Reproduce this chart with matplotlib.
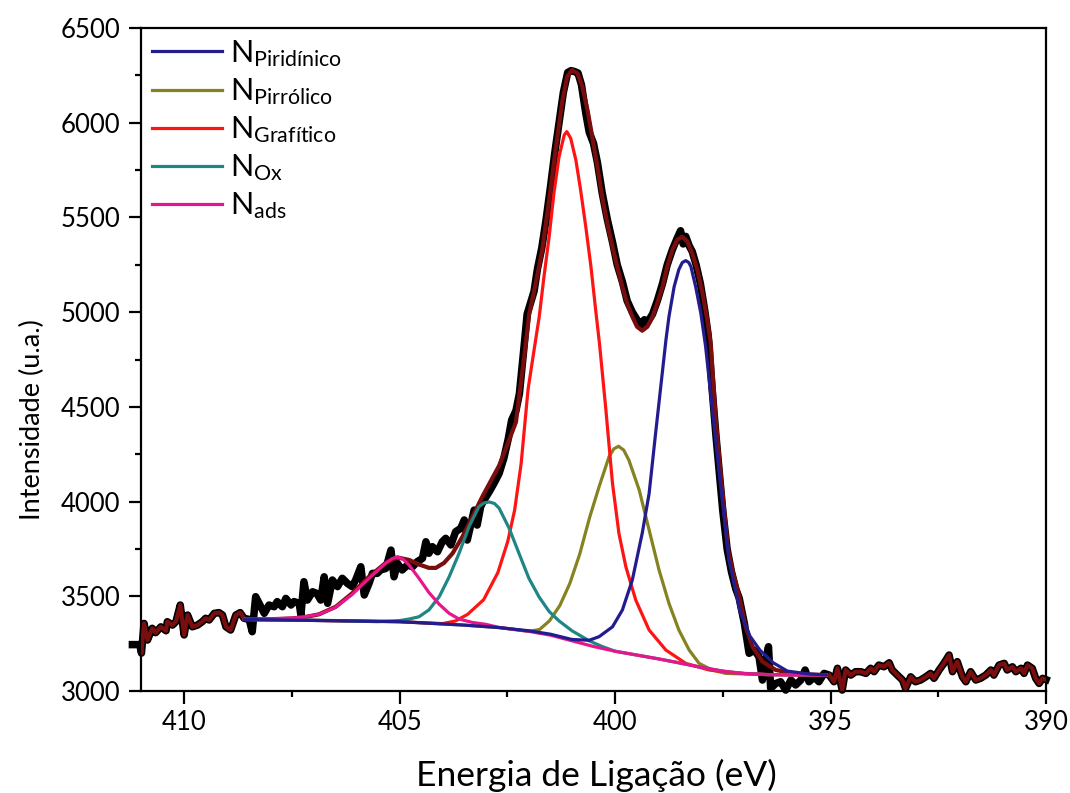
import matplotlib
matplotlib.use("Agg")
import matplotlib.pyplot as plt
import numpy as np

plt.rcParams['font.family'] = ['Lato', 'DejaVu Sans']
plt.rcParams['mathtext.fontset'] = 'custom'
plt.rcParams['mathtext.rm'] = 'Lato'
plt.rcParams['mathtext.it'] = 'Lato:italic'
plt.rcParams['mathtext.bf'] = 'Lato:bold'

# measured spectrum (binding energy in eV, intensity in a.u.)
energy_exp = [411.2, 411.03, 410.99, 410.93, 410.85, 410.74, 410.66, 410.54, 410.42, 410.39,
              410.27, 410.19, 410.09, 410.0, 409.92, 409.81, 409.69, 409.58, 409.5, 409.42,
              409.3, 409.19, 409.11, 409.03, 408.92, 408.8, 408.7, 408.61, 408.49, 408.42,
              408.34, 408.26, 408.14, 408.03, 407.91, 407.84, 407.72, 407.64, 407.52, 407.45,
              407.33, 407.29, 407.22, 407.14, 407.02, 406.92, 406.83, 406.75, 406.67, 406.56,
              406.44, 406.33, 406.21, 406.10, 406.02, 405.90, 405.82, 405.71, 405.63, 405.52,
              405.44, 405.32, 405.20, 405.13, 405.05, 404.94, 404.82, 404.70, 404.59, 404.47,
              404.39, 404.32, 404.24, 404.12, 404.01, 403.93, 403.81, 403.70, 403.58, 403.50,
              403.43, 403.35, 403.27, 403.20, 403.12, 403.04, 402.92, 402.81, 402.69, 402.58,
              402.48, 402.40, 402.30, 402.22, 402.12, 402.04, 401.96, 401.88, 401.80, 401.70,
              401.60, 401.50, 401.40, 401.30, 401.20, 401.10, 401.02, 400.94, 400.86, 400.78,
              400.68, 400.60, 400.50, 400.41, 400.30, 400.18, 400.06, 399.95, 399.83, 399.72,
              399.60, 399.49, 399.40, 399.32, 399.25, 399.13, 399.02, 398.90, 398.79, 398.67,
              398.56, 398.48, 398.42, 398.36, 398.28, 398.21, 398.12, 398.02, 397.92, 397.84,
              397.75, 397.66, 397.58, 397.50, 397.40, 397.30, 397.20, 397.12, 397.08, 397.00,
              396.89, 396.77, 396.66, 396.58, 396.50, 396.44, 396.39, 396.27, 396.16, 396.04,
              395.92, 395.81, 395.69, 395.59, 395.50, 395.38, 395.27, 395.15, 395.03, 394.92,
              394.84, 394.73, 394.65, 394.53, 394.42, 394.30, 394.18, 394.07, 393.99, 393.88,
              393.76, 393.64, 393.57, 393.45, 393.33, 393.26, 393.14, 393.03, 392.91, 392.79,
              392.68, 392.60, 392.48, 392.37, 392.25, 392.17, 392.06, 391.94, 391.86, 391.75,
              391.63, 391.52, 391.40, 391.28, 391.21, 391.09, 390.97, 390.90, 390.78, 390.70,
              390.58, 390.51, 390.43, 390.32, 390.24, 390.16, 390.08, 390.0]
counts_exp = [3245, 3245, 3200, 3357, 3269, 3331, 3308, 3339, 3318, 3366,
              3348, 3366, 3454, 3296, 3401, 3339, 3348, 3366, 3384, 3375,
              3410, 3414, 3401, 3339, 3322, 3401, 3414, 3384, 3378, 3313,
              3498, 3463, 3410, 3454, 3445, 3472, 3445, 3489, 3454, 3472,
              3463, 3401, 3577, 3480, 3524, 3515, 3480, 3603, 3463, 3586,
              3551, 3595, 3568, 3551, 3586, 3656, 3507, 3568, 3621, 3621,
              3639, 3647, 3744, 3603, 3674, 3639, 3665, 3656, 3683, 3700,
              3788, 3727, 3762, 3735, 3788, 3806, 3771, 3841, 3859, 3903,
              3797, 3876, 3955, 3876, 3973, 4008, 4052, 4096, 4149, 4230,
              4330, 4430, 4480, 4570, 4800, 4990, 5050, 5110, 5230, 5340,
              5490, 5660, 5840, 6000, 6160, 6265, 6275, 6270, 6262, 6200,
              6050, 5950, 5890, 5790, 5630, 5490, 5370, 5250, 5160, 5060,
              5000, 4960, 4930, 4960, 4945, 4990, 5060, 5150, 5250, 5330,
              5390, 5430, 5360, 5400, 5350, 5320, 5250, 5150, 5010, 4880,
              4600, 4350, 4150, 3950, 3750, 3630, 3540, 3490, 3445, 3357,
              3199, 3216, 3181, 3058, 3164, 3234, 3014, 3040, 3049, 3005,
              3058, 3032, 3058, 3111, 3049, 3075, 3049, 3093, 3084, 3049,
              3120, 3005, 3111, 3084, 3102, 3102, 3093, 3120, 3102, 3137,
              3128, 3149, 3111, 3084, 3058, 3014, 3075, 3049, 3058, 3075,
              3093, 3067, 3111, 3146, 3190, 3102, 3155, 3075, 3049, 3102,
              3058, 3067, 3084, 3111, 3084, 3137, 3146, 3111, 3128, 3102,
              3120, 3093, 3137, 3120, 3067, 3040, 3067, 3060]

# fit range limits (eV)
fit_start = 408.6
fit_end = 395.1

# cumulative fit inside the fit range
energy_fit = [408.6, 408.0, 407.5, 407.2, 406.87, 406.48, 406.10, 405.71, 405.32, 405.05,
              404.78, 404.55, 404.32, 404.16, 403.97, 403.77, 403.54, 403.31, 403.08, 402.85,
              402.69, 402.5, 402.3, 402.11, 401.99, 401.84, 401.69, 401.53, 401.38, 401.22,
              401.11, 401.0, 400.87, 400.76, 400.64, 400.53, 400.41, 400.30, 400.18, 400.06,
              399.95, 399.83, 399.72, 399.60, 399.49, 399.37, 399.25, 399.13, 399.02, 398.90,
              398.79, 398.67, 398.56, 398.44, 398.32, 398.21, 398.09, 397.97, 397.86, 397.78,
              397.66, 397.51, 397.38, 397.28, 397.12, 396.97, 396.81, 396.58, 396.27, 395.81,
              395.1]
counts_fit = [3378, 3379, 3383, 3390, 3405, 3445, 3516, 3603, 3677, 3705,
              3692, 3668, 3650, 3650, 3676, 3727, 3815, 3920, 4026, 4123,
              4190, 4300, 4420, 4760, 4994, 5152, 5328, 5592, 5856, 6120,
              6243, 6278, 6260, 6190, 6067, 5926, 5768, 5609, 5469, 5345,
              5240, 5134, 5047, 4976, 4923, 4902, 4923, 4976, 5047, 5134,
              5240, 5328, 5381, 5398, 5372, 5310, 5222, 5099, 4958, 4835,
              4420, 4050, 3750, 3640, 3500, 3339, 3234, 3155, 3111, 3090,
              3084]

# components (each drawn on top of the Shirley background)
energy_pyridinic = [408.6, 405.0, 403.5, 402.7, 402.0, 401.5, 401.0, 400.6, 400.37, 400.06,
                    399.83, 399.60, 399.37, 399.21, 399.06, 398.82, 398.75, 398.63, 398.52, 398.44,
                    398.36, 398.29, 398.24, 398.13, 398.01, 397.90, 397.75, 397.60, 397.47, 397.36,
                    397.10, 396.87, 396.64, 396.33, 396.0, 395.5, 395.1]
counts_pyridinic = [3378, 3366, 3348, 3335, 3318, 3300, 3272, 3268, 3287, 3339,
                    3428, 3586, 3833, 4043, 4360, 4853, 4976, 5134, 5225, 5262,
                    5272, 5262, 5240, 5134, 4994, 4820, 4501, 4184, 3920, 3692,
                    3420, 3290, 3216, 3149, 3105, 3090, 3085]

energy_pyrrolic = [408.6, 405.0, 403.5, 402.7, 402.0, 401.75, 401.52, 401.28, 401.05, 400.82,
                   400.59, 400.37, 400.14, 400.03, 399.92, 399.80, 399.68, 399.44, 399.21, 398.98,
                   398.75, 398.52, 398.28, 398.05, 397.75, 397.43, 397.0, 396.5, 395.1]
counts_pyrrolic = [3378, 3366, 3348, 3335, 3315, 3325, 3371, 3452, 3568, 3723,
                   3917, 4079, 4237, 4278, 4292, 4272, 4219, 4061, 3850, 3639,
                   3463, 3322, 3216, 3146, 3111, 3093, 3090, 3087, 3084]

energy_graphitic = [408.6, 405.0, 404.0, 403.7, 403.42, 403.05, 402.72, 402.49, 402.33, 402.18,
                    402.02, 401.88, 401.76, 401.65, 401.53, 401.42, 401.30, 401.18, 401.12, 401.03,
                    400.91, 400.80, 400.68, 400.56, 400.45, 400.36, 400.22, 400.06, 399.91, 399.75,
                    399.52, 399.21, 398.82, 398.36, 397.82, 397.3, 396.5, 395.1]
counts_graphitic = [3378, 3366, 3356, 3370, 3405, 3482, 3625, 3790, 3956, 4200,
                    4591, 4800, 4976, 5187, 5398, 5627, 5821, 5935, 5953, 5918,
                    5803, 5645, 5451, 5240, 5011, 4830, 4501, 4096, 3831, 3656,
                    3480, 3322, 3216, 3146, 3111, 3097, 3087, 3084]

energy_ox = [408.6, 406.5, 405.5, 405.0, 404.78, 404.55, 404.32, 404.08, 403.85, 403.62,
             403.39, 403.16, 403.04, 402.92, 402.80, 402.69, 402.46, 402.23, 402.0, 401.76,
             401.53, 401.3, 401.0, 400.6, 400.3, 400.0, 399.5, 399.0, 398.5, 398.0,
             397.5, 397.0, 396.5, 395.1]
counts_ox = [3378, 3372, 3366, 3372, 3380, 3392, 3428, 3498, 3603, 3727,
             3867, 3973, 3993, 3998, 3990, 3965, 3860, 3727, 3595, 3495,
             3420, 3370, 3318, 3265, 3235, 3210, 3190, 3170, 3148, 3125,
             3105, 3092, 3087, 3084]

energy_ads = [408.6, 408.0, 407.5, 407.2, 406.87, 406.5, 406.1, 405.71, 405.32, 405.18,
              405.05, 404.92, 404.78, 404.55, 404.32, 404.08, 403.85, 403.62, 403.31, 403.0,
              402.7, 402.0, 401.5, 401.0, 400.5, 400.0, 399.5, 399.0, 398.5, 398.0,
              397.5, 397.0, 396.5, 396.0, 395.1]
counts_ads = [3378, 3380, 3385, 3392, 3405, 3440, 3510, 3595, 3675, 3698,
              3708, 3696, 3665, 3595, 3520, 3458, 3410, 3380, 3362, 3352,
              3336, 3315, 3295, 3265, 3235, 3210, 3190, 3170, 3148, 3125,
              3105, 3092, 3087, 3085, 3084]

component_names = ['Piridínico', 'Pirrólico', 'Grafítico', 'Ox', 'ads']
component_colors = ['#231c8f', '#858220', '#ff1414', '#1f8585', '#e8168c']

fig = plt.figure(figsize=(10.7, 7.93), dpi=100)
ax = fig.add_axes([0.1318, 0.1286, 0.8458, 0.8361])

e_exp = np.array(energy_exp)
c_exp = np.array(counts_exp)

# experimental data (thick black), spills a bit past the left spine
ax.plot(e_exp, c_exp, color='black', lw=5.4, solid_joinstyle='round', clip_on=False, zorder=2)

# cumulative fit: data outside the fit range + fitted envelope
left = e_exp >= fit_start - 0.02
right = e_exp <= fit_end - 0.05
ax.plot(e_exp[left], c_exp[left], color='#7a0d0d', lw=3.0, zorder=3)
ax.plot(e_exp[right], c_exp[right], color='#7a0d0d', lw=3.0, zorder=3)
ax.plot(energy_fit, counts_fit, color='#7a0d0d', lw=3.0, zorder=3)

series = [(energy_pyridinic, counts_pyridinic), (energy_pyrrolic, counts_pyrrolic),
          (energy_graphitic, counts_graphitic), (energy_ox, counts_ox), (energy_ads, counts_ads)]
lines = []
for (ee, cc), name, col in zip(series, component_names, component_colors):
    ln, = ax.plot(ee, cc, color=col, lw=2.3, zorder=4,
                  label='N$_{\\mathrm{' + name + '}}$')
    lines.append(ln)
# pyridinic sits on top of the shared background line
lines[0].set_zorder(5)

ax.set_xlim(411.0, 390.0)
ax.set_ylim(3000, 6500)
ax.set_xticks([410, 405, 400, 395, 390])
ax.set_xticks([407.5, 402.5, 397.5, 392.5], minor=True)
ax.set_yticks(np.arange(3000, 6501, 500))
ax.set_yticks(np.arange(3250, 6500, 500), minor=True)

for sp in ax.spines.values():
    sp.set_linewidth(1.6)
ax.tick_params(which='major', direction='out', length=9, width=1.6, labelsize=18.5, pad=5)
ax.tick_params(which='minor', direction='out', length=4.5, width=1.6)
ax.tick_params(axis='y', which='major', pad=6)

ax.set_xlabel('Energia de Ligação (eV)', fontsize=25.5)
ax.set_ylabel('Intensidade (u.a.)', fontsize=19.5)
ax.xaxis.set_label_coords(0.503, -0.103)
ax.yaxis.set_label_coords(-0.106, 0.41)

ax.legend(loc='upper left', bbox_to_anchor=(-0.012, 1.017), frameon=False, fontsize=22,
          handlelength=2.32, handletextpad=0.26, labelspacing=0.24, borderaxespad=0.3)

plt.savefig('out.png', dpi=100)
